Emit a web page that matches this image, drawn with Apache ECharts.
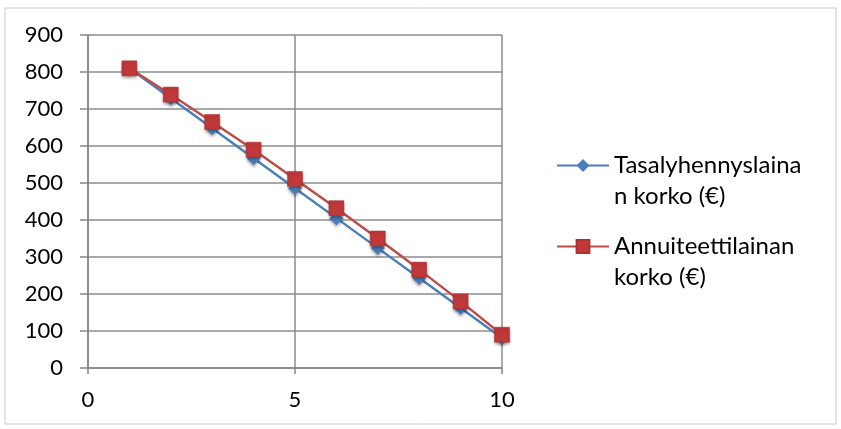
<!DOCTYPE html>
<html><head><meta charset="utf-8">
<script src="https://cdn.jsdelivr.net/npm/echarts@6/dist/echarts.min.js"></script>
<style>html,body{margin:0;padding:0;background:#fff}#c{width:841px;height:429px}</style>
</head><body><div id="c"></div>
<script>
const years = [1,2,3,4,5,6,7,8,9,10];
const tasalyhennys = [810,729,648,567,486,405,324,243,162,81];
const annuiteetti = [810,739,665,590,511,432,350,266,180,90];
const seriesNames = ['Tasalyhennyslaina\nn korko (€)', 'Annuiteettilainan\nkorko (€)'];
const FONT = 'Lato';
const chart = echarts.init(document.getElementById('c'));
const pairs = (xs, ys) => xs.map((x,i)=>[x, ys[i]]);
chart.setOption({
  animation:false,
  backgroundColor:'#fff',
  textStyle:{fontFamily:FONT},
  graphic:[{type:'rect',shape:{x:5,y:8,width:831,height:416},style:{fill:null,stroke:'#c8c8c8',lineWidth:1},silent:true,z:-1}],
  grid:{left:88,right:339,top:35,bottom:61},
  xAxis:{type:'value',min:0,max:10,interval:5,
    axisLine:{show:true,lineStyle:{color:'#868686',width:1.5}},
    axisTick:{show:true,length:6,lineStyle:{color:'#868686',width:1.5}},
    splitLine:{show:true,lineStyle:{color:'#8c8c8c',width:1.5}},
    axisLabel:{color:'#000',fontSize:22,fontFamily:FONT,margin:21}},
  yAxis:{type:'value',min:0,max:900,interval:100,
    axisLine:{show:true,lineStyle:{color:'#868686',width:1.5}},
    axisTick:{show:true,length:8,lineStyle:{color:'#868686',width:1.5}},
    splitLine:{show:true,lineStyle:{color:'#8c8c8c',width:1.5}},
    axisLabel:{color:'#000',fontSize:22,fontFamily:FONT,margin:25}},
  legend:{orient:'vertical',left:556,top:119,padding:0,itemWidth:52,itemHeight:16,itemGap:-12,
    data:[seriesNames[0],seriesNames[1]],
    formatter:(n)=>'\n'+n,
    textStyle:{fontSize:24,fontFamily:FONT,color:'#000',lineHeight:31}},
  series:[
    {name:seriesNames[0],type:'line',data:pairs(years,tasalyhennys),symbol:'diamond',symbolSize:14,
      lineStyle:{color:'#4A7EBB',width:2.4},itemStyle:{color:'#4A7EBB',shadowBlur:3,shadowColor:'rgba(0,0,0,0.35)',shadowOffsetY:2}},
    {name:seriesNames[1],type:'line',data:pairs(years,annuiteetti),symbol:'rect',symbolSize:15,
      lineStyle:{color:'#BE4B48',width:2.4},itemStyle:{color:'#C0393A',borderColor:'#B03030',borderWidth:0.5,shadowBlur:3,shadowColor:'rgba(0,0,0,0.35)',shadowOffsetY:2}}
  ]
});
</script></body></html>
